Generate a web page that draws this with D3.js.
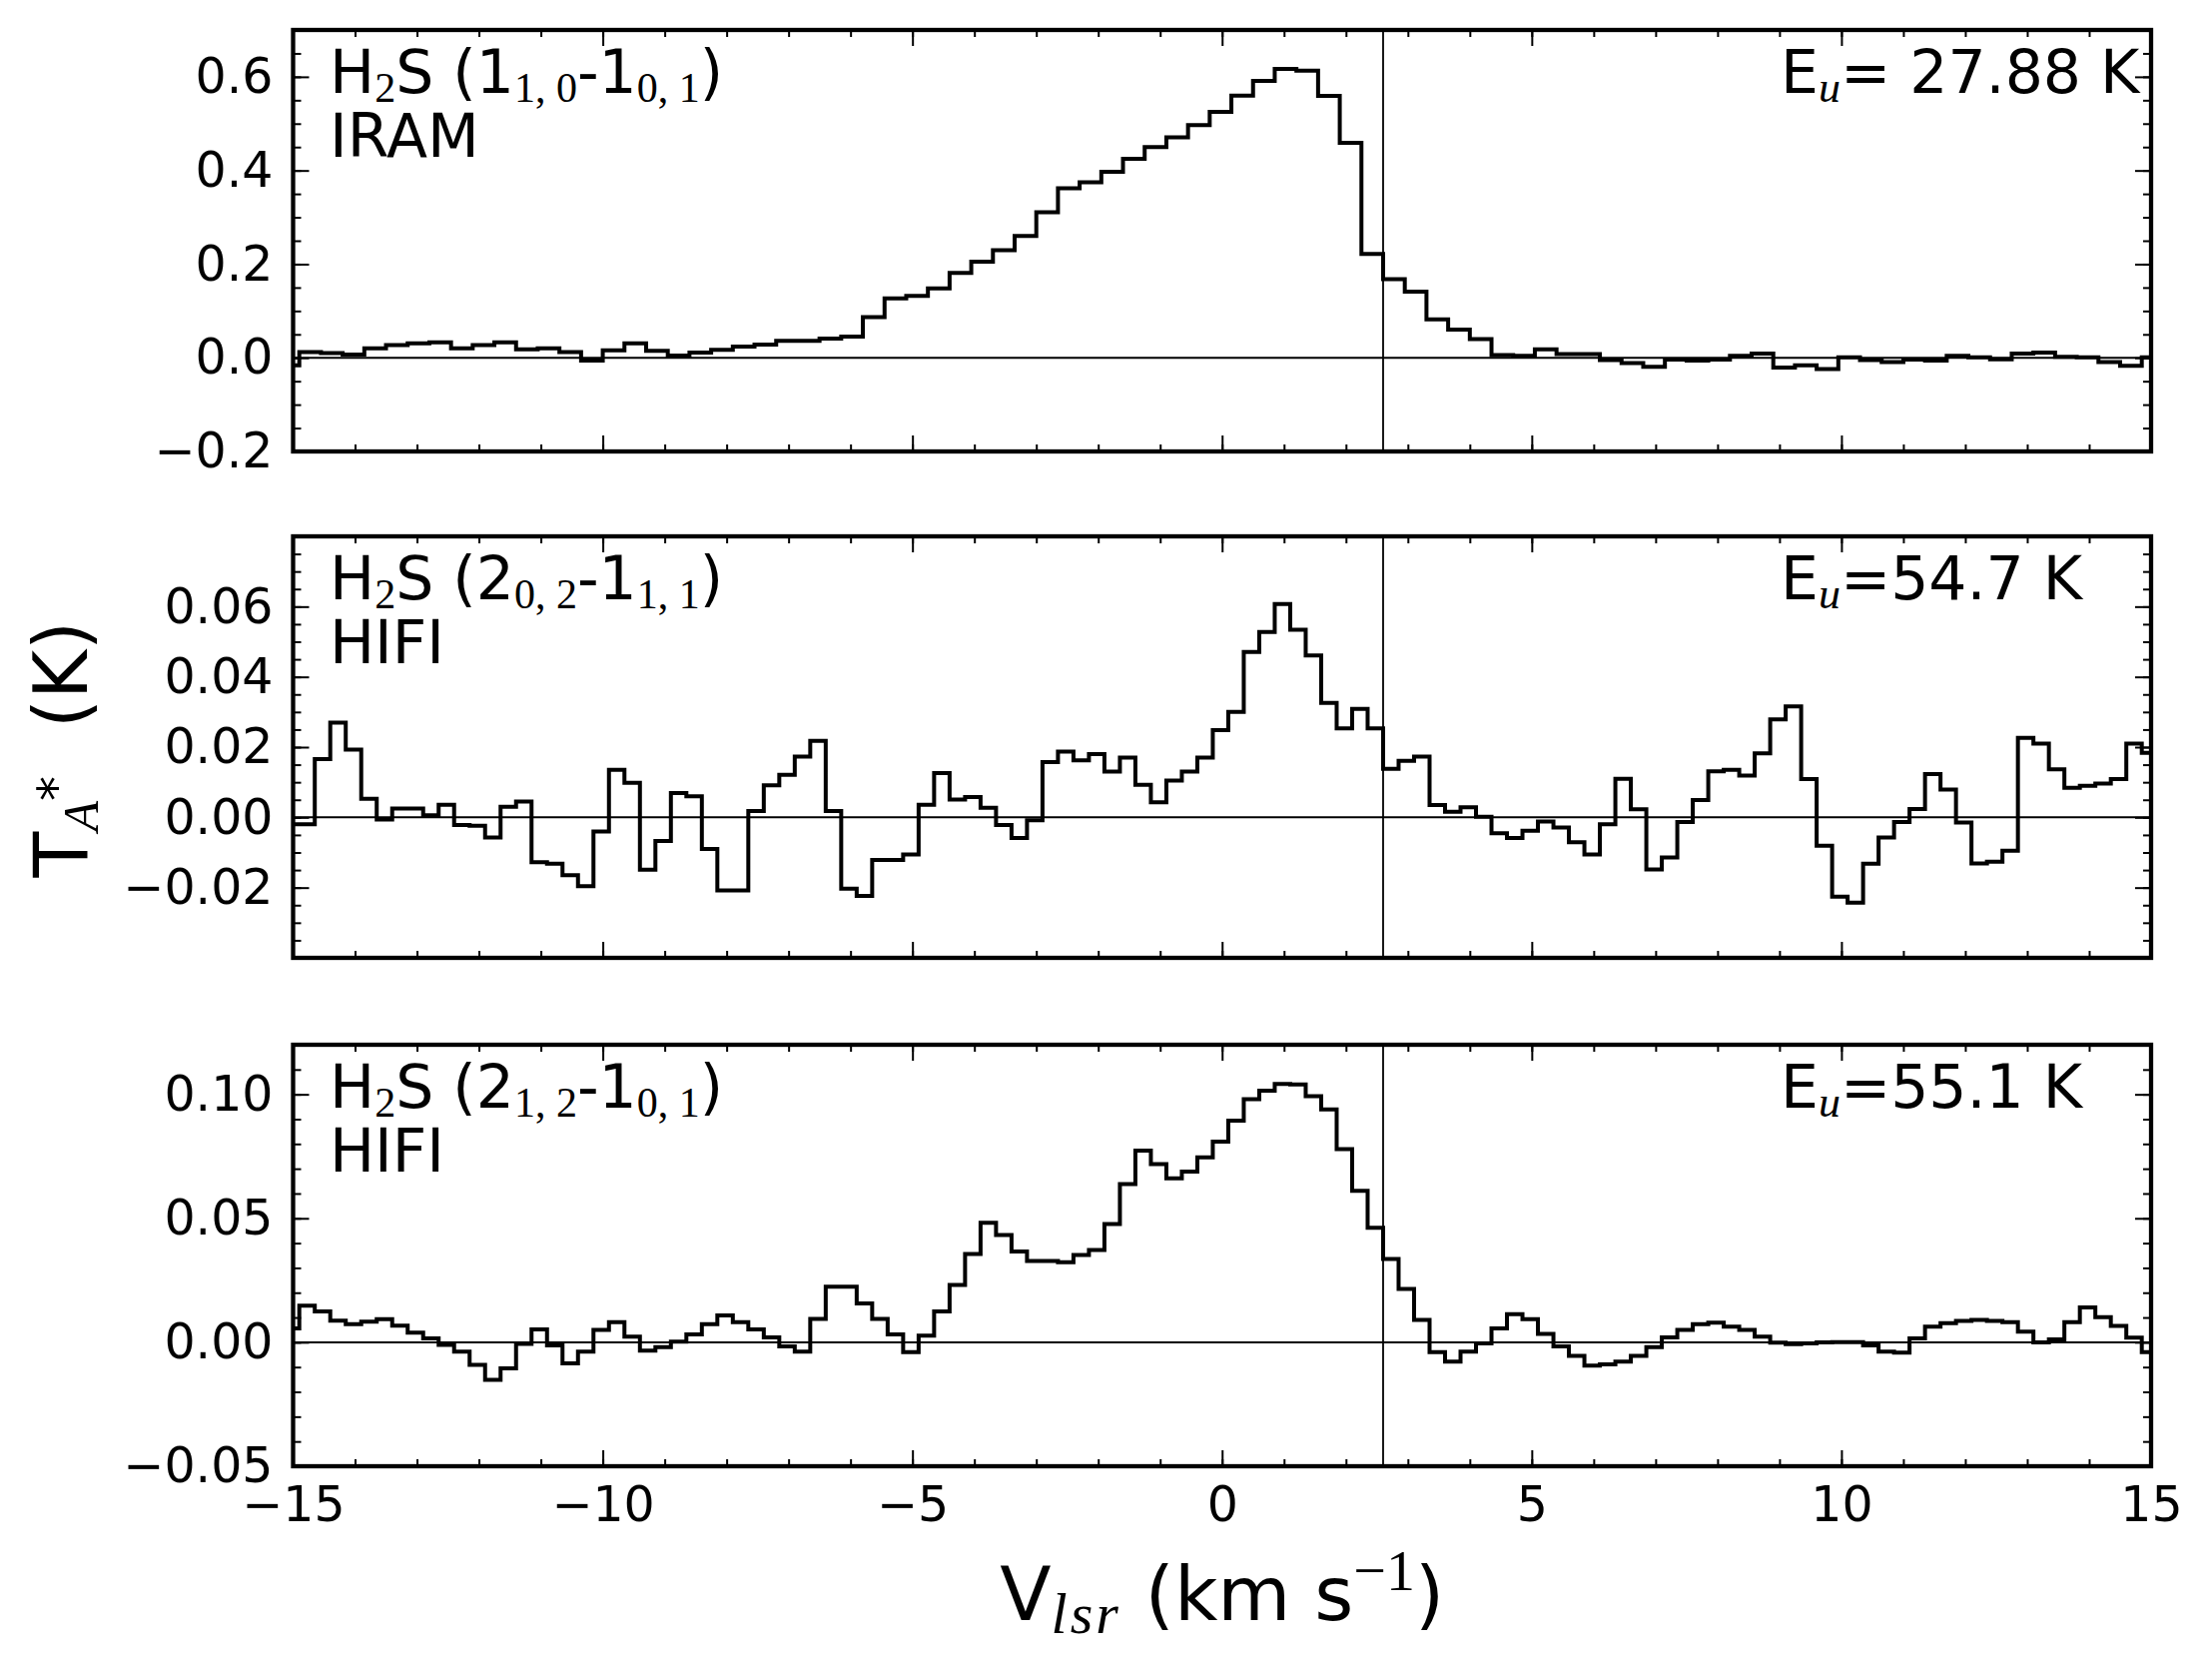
<!DOCTYPE html>
<html>
<head>
<meta charset="utf-8">
<script src="https://cdn.jsdelivr.net/npm/d3@7"></script>
<style>
  body { margin: 0; background: #fff; }
  text { font-family: "DejaVu Sans", sans-serif; fill: #000; }
</style>
</head>
<body>
<div id="viz"></div>
<script>
// velocity grids (km/s): centre of the first channel and channel width
const iramV0 = -15.075, iramDv = 0.35
const hifiV0 = -15.025, hifiDv = 0.25
const vSys = 2.6

// T_A* (K), IRAM H2S 1(1,0)-1(0,1)
const iramTa = [-0.016, 0.012, 0.010, 0.007, 0.020, 0.027, 0.031, 0.033, 0.020, 0.027,
  0.033, 0.018, 0.020, 0.012, -0.006, 0.016, 0.031, 0.015, 0.005, 0.011,
  0.017, 0.024, 0.028, 0.036, 0.036, 0.041, 0.045, 0.087, 0.127, 0.132,
  0.148, 0.181, 0.205, 0.230, 0.260, 0.311, 0.362, 0.375, 0.397, 0.425,
  0.450, 0.471, 0.497, 0.525, 0.560, 0.591, 0.617, 0.613, 0.559, 0.459,
  0.222, 0.168, 0.141, 0.082, 0.060, 0.040, 0.006, 0.004, 0.018, 0.008,
  0.008, -0.005, -0.011, -0.019, -0.004, -0.006, -0.004, 0.004, 0.009, -0.021,
  -0.016, -0.024, 0.001, -0.005, -0.009, -0.004, -0.006, 0.004, 0.001, -0.003,
  0.009, 0.011, 0.002, 0.001, -0.009, -0.017, 0.001]

// T_A* (K), HIFI H2S 2(0,2)-1(1,1)
const hifi202Ta = [-0.002, -0.002, 0.0166, 0.027, 0.0193, 0.0053, -0.0006, 0.0025, 0.0025, 0.0006,
  0.0036, -0.0022, -0.0024, -0.0057, 0.003, 0.0045, -0.0128, -0.0132, -0.0165, -0.0196,
  -0.004, 0.0135, 0.0098, -0.0149, -0.0067, 0.0069, 0.006, -0.009, -0.0208, -0.0208,
  0.0018, 0.0091, 0.0121, 0.0173, 0.0218, 0.0018, -0.0203, -0.0224, -0.0121, -0.0121,
  -0.0106, 0.0036, 0.0126, 0.0051, 0.0058, 0.0027, -0.0022, -0.0059, -0.0008, 0.0157,
  0.0187, 0.0162, 0.018, 0.013, 0.017, 0.0093, 0.0043, 0.0105, 0.013, 0.017,
  0.0248, 0.030, 0.0471, 0.0528, 0.0607, 0.0534, 0.0461, 0.0326, 0.0253, 0.0309,
  0.0253, 0.0138, 0.0161, 0.0173, 0.0035, 0.0016, 0.0029, 0.0002, -0.0045, -0.0059,
  -0.0038, -0.0012, -0.0029, -0.0071, -0.0106, -0.002, 0.011, 0.0023, -0.0148, -0.0114,
  -0.0013, 0.0049, 0.0131, 0.0135, 0.0119, 0.0182, 0.0279, 0.0316, 0.0109, -0.0081,
  -0.0226, -0.0243, -0.0132, -0.0057, -0.0013, 0.0024, 0.0123, 0.0079, -0.0015, -0.0131,
  -0.0126, -0.0095, 0.0226, 0.021, 0.0137, 0.0084, 0.009, 0.0096, 0.0109, 0.021,
  0.0184]

// T_A* (K), HIFI H2S 2(1,2)-1(0,1)
const hifi212Ta = [0.0056, 0.0148, 0.0124, 0.0087, 0.0073, 0.0083, 0.0093, 0.0067, 0.0039, 0.0016,
  -0.0011, -0.0038, -0.0091, -0.0152, -0.0105, -0.0007, 0.0052, -0.0013, -0.0085, -0.0038,
  0.005, 0.0081, 0.0023, -0.0034, -0.002, 0.0003, 0.0032, 0.0073, 0.0108, 0.0081,
  0.0052, 0.002, -0.0017, -0.0038, 0.0094, 0.0224, 0.0224, 0.0157, 0.0094, 0.0032,
  -0.004, 0.0027, 0.0124, 0.0231, 0.0356, 0.0482, 0.0433, 0.0366, 0.0328, 0.0328,
  0.0323, 0.0352, 0.0372, 0.0477, 0.0638, 0.0773, 0.0719, 0.0661, 0.0688, 0.0746,
  0.0809, 0.0894, 0.098, 0.1015, 0.1042, 0.104, 0.0993, 0.0939, 0.0779, 0.0611,
  0.0462, 0.0336, 0.0215, 0.009, -0.004, -0.0078, -0.0038, -0.0004, 0.0056, 0.0113,
  0.0093, 0.0034, -0.0017, -0.0055, -0.0094, -0.0089, -0.0078, -0.0055, -0.002, 0.002,
  0.005, 0.0073, 0.0079, 0.0063, 0.005, 0.0023, -0.0001, -0.0008, -0.0004, 0,
  0.0001, 0.0001, -0.0013, -0.0038, -0.0042, 0.0016, 0.0063, 0.0077, 0.0086, 0.009,
  0.0086, 0.0081, 0.0043, 0, 0.0012, 0.0081, 0.0141, 0.0101, 0.0066, 0.0019,
  -0.004]

// labels: [text, kind]  kind: "" normal, "sub" subscript, "isub" italic subscript, "sup"
const lineLabels = [
  [["H", ""], ["2", "sub"], ["S (1", ""], ["1, 0", "sub"], ["-1", ""], ["0, 1", "sub"], [")", ""]],
  [["H", ""], ["2", "sub"], ["S (2", ""], ["0, 2", "sub"], ["-1", ""], ["1, 1", "sub"], [")", ""]],
  [["H", ""], ["2", "sub"], ["S (2", ""], ["1, 2", "sub"], ["-1", ""], ["0, 1", "sub"], [")", ""]]
]
const telescopes = ["IRAM", "HIFI", "HIFI"]
const energies = ["= 27.88 K", "=54.7 K", "=55.1 K"]

const yDomains = [[-0.2, 0.7], [-0.04, 0.08], [-0.05, 0.12]]
const yMajorTicks = [[-0.2, 0, 0.2, 0.4, 0.6], [-0.02, 0, 0.02, 0.04, 0.06], [-0.05, 0, 0.05, 0.10]]
const yMinorStep = [0.05, 0.005, 0.01]
const yFormats = [".1f", ".2f", ".2f"]
const xMajorTicks = [-15, -10, -5, 0, 5, 10, 15]
const xMinorTicks = d3.range(-15, 16, 1)

const spectra = [
  { v0: iramV0, dv: iramDv, ta: iramTa },
  { v0: hifiV0, dv: hifiDv, ta: hifi202Ta },
  { v0: hifiV0, dv: hifiDv, ta: hifi212Ta }
]

const width = 2215
const height = 1667
const plotLeft = 293.5
const plotRight = 2154
const panelTops = [30, 537, 1046]
const panelHeight = 422
const serif = "'Liberation Serif', 'DejaVu Serif', serif"

const svg = d3.select("#viz").append("svg")
  .attr("width", width)
  .attr("height", height)

const x = d3.scaleLinear().domain([-15, 15]).range([plotLeft, plotRight])

// writes mixed normal / sub / sup parts into a text node
function richText(sel, parts, subSize, subShift, supShift, spacing) {
  let shift = 0
  parts.forEach(([t, kind]) => {
    const target = kind === "sup" ? supShift : (kind ? subShift : 0)
    const ts = sel.append("tspan").attr("dy", target - shift).text(t)
    if (kind) {
      ts.attr("font-size", subSize).style("font-family", kind === "sup" && t === "*" ? null : serif)
      if (kind === "isub") ts.attr("font-style", "italic")
      if (kind === "isub" && spacing) ts.attr("letter-spacing", spacing)
    }
    shift = target
  })
}

function styleAxis(a) {
  a.select(".domain").remove()
  a.selectAll(".tick line").attr("stroke", "#000").attr("stroke-width", 2)
  a.selectAll(".tick text").filter(function () { return this.textContent === "" }).remove()
  a.selectAll(".tick text")
    .attr("font-size", 49)
    .style("font-family", "'DejaVu Sans', sans-serif")
    .attr("fill", "#000")
}

spectra.forEach((s, i) => {
  const top = panelTops[i]
  const bottom = top + panelHeight
  const y = d3.scaleLinear().domain(yDomains[i]).range([bottom, top])
  const g = svg.append("g")

  g.append("clipPath").attr("id", "clip" + i)
    .append("rect")
      .attr("x", plotLeft).attr("y", top)
      .attr("width", plotRight - plotLeft).attr("height", panelHeight)

  // zero level and systemic velocity
  g.append("line")
    .attr("x1", plotLeft).attr("x2", plotRight)
    .attr("y1", y(0)).attr("y2", y(0))
    .attr("stroke", "#000").attr("stroke-width", 2)
  g.append("line")
    .attr("x1", x(vSys)).attr("x2", x(vSys))
    .attr("y1", top).attr("y2", bottom)
    .attr("stroke", "#000").attr("stroke-width", 1.8)

  // spectrum as a histogram-style step line
  const pts = s.ta.map((t, k) => [s.v0 + k * s.dv, t])
  const line = d3.line().x(d => x(d[0])).y(d => y(d[1])).curve(d3.curveStep)
  g.append("path")
    .attr("d", line(pts))
    .attr("clip-path", `url(#clip${i})`)
    .attr("fill", "none")
    .attr("stroke", "#000")
    .attr("stroke-width", 4)
    .attr("stroke-linejoin", "miter")

  const d0 = yDomains[i][0], d1 = yDomains[i][1]
  const nMinor = Math.round((d1 - d0) / yMinorStep[i])
  const yMinor = d3.range(nMinor + 1).map(k => d0 + k * yMinorStep[i])
  const blank = () => ""

  // inward ticks on all four sides
  styleAxis(g.append("g").attr("transform", `translate(${plotLeft},0)`)
    .call(d3.axisLeft(y).tickValues(yMajorTicks[i]).tickSize(-16).tickPadding(20).tickFormat(d3.format(yFormats[i]))))
  styleAxis(g.append("g").attr("transform", `translate(${plotLeft},0)`)
    .call(d3.axisLeft(y).tickValues(yMinor).tickSize(-8).tickFormat(blank)))
  styleAxis(g.append("g").attr("transform", `translate(${plotRight},0)`)
    .call(d3.axisRight(y).tickValues(yMajorTicks[i]).tickSize(-16).tickFormat(blank)))
  styleAxis(g.append("g").attr("transform", `translate(${plotRight},0)`)
    .call(d3.axisRight(y).tickValues(yMinor).tickSize(-8).tickFormat(blank)))
  styleAxis(g.append("g").attr("transform", `translate(0,${bottom})`)
    .call(d3.axisBottom(x).tickValues(xMajorTicks).tickSize(-16).tickPadding(20)
      .tickFormat(i === 2 ? d3.format("d") : blank)))
  styleAxis(g.append("g").attr("transform", `translate(0,${bottom})`)
    .call(d3.axisBottom(x).tickValues(xMinorTicks).tickSize(-7).tickFormat(blank)))
  styleAxis(g.append("g").attr("transform", `translate(0,${top})`)
    .call(d3.axisTop(x).tickValues(xMajorTicks).tickSize(-16).tickFormat(blank)))
  styleAxis(g.append("g").attr("transform", `translate(0,${top})`)
    .call(d3.axisTop(x).tickValues(xMinorTicks).tickSize(-7).tickFormat(blank)))

  // frame
  g.append("rect")
    .attr("x", plotLeft).attr("y", top)
    .attr("width", plotRight - plotLeft).attr("height", panelHeight)
    .attr("fill", "none").attr("stroke", "#000").attr("stroke-width", 4.3)

  // panel annotations
  const lab = g.append("text").attr("x", 330).attr("y", top + 63).attr("font-size", 60)
  richText(lab, lineLabels[i], 42, 9, 0)
  g.append("text").attr("x", 330).attr("y", top + 127).attr("font-size", 60).text(telescopes[i])
  const eu = g.append("text").attr("x", 1783).attr("y", top + 63).attr("font-size", 60)
  richText(eu, [["E", ""], ["u", "isub"], [energies[i], ""]], 44, 9, 0)
})

// axis titles
const yTitle = svg.append("text")
  .attr("transform", "translate(87,750) rotate(-90)")
  .attr("text-anchor", "middle")
  .attr("font-size", 75)
richText(yTitle, [["T", ""], ["A", "isub"], ["*", "sup"], ["\u00a0\u00a0(K)", ""]], 50, 11, -14)

const xTitle = svg.append("text")
  .attr("x", (plotLeft + plotRight) / 2)
  .attr("y", 1622)
  .attr("text-anchor", "middle")
  .attr("font-size", 75)
richText(xTitle, [["V", ""], ["lsr", "isub"], ["\u00a0(km s", ""], ["\u22121", "sup"], [")", ""]], 58, 13, -30, 3)
</script>
</body>
</html>
